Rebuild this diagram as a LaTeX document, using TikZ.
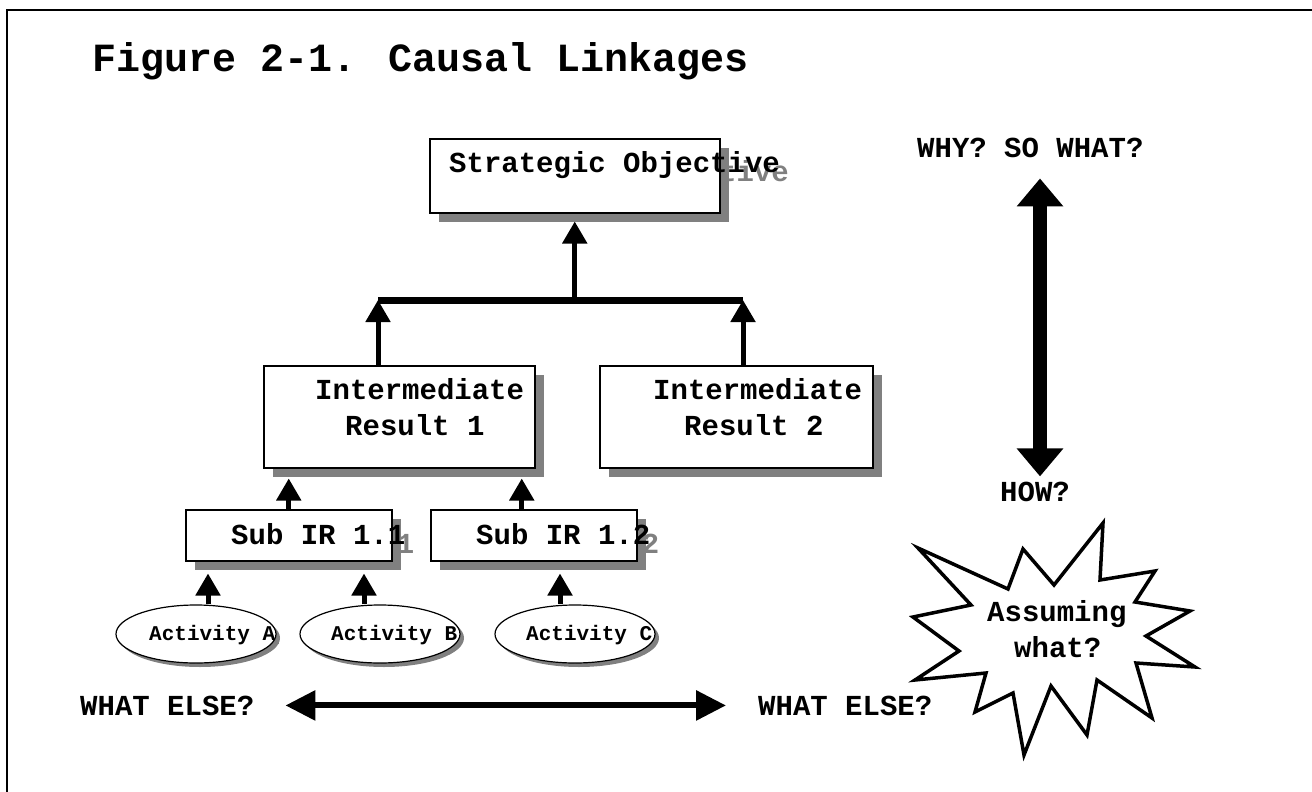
\documentclass[tikz,border=0pt]{standalone}
\usepackage{fontspec}
\setmainfont{Liberation Mono}
\usetikzlibrary{arrows.meta, calc, shapes.geometric, shadows}

\definecolor{shadowgray}{HTML}{808080}
\newcommand{\titlefont}{\fontsize{40}{46}\selectfont\bfseries}
\newcommand{\boxfont}{\fontsize{29}{33}\selectfont\bfseries}
\newcommand{\actfont}{\fontsize{21}{24}\selectfont\bfseries}

\tikzset{
    lbl/.style={anchor=base west, inner sep=0, font=\boxfont},
    ghost/.style={lbl, text=shadowgray},
    box/.style={draw, fill=white, line width=1.5pt, anchor=north west, inner sep=0,
        drop shadow={shadow xshift=9pt, shadow yshift=-9pt, fill=shadowgray, opacity=1}},
    act/.style={draw, ellipse, fill=white, line width=1.2pt, inner sep=0,
        minimum width=160pt, minimum height=58pt,
        drop shadow={shadow xshift=4pt, shadow yshift=-4pt, fill=shadowgray, opacity=1}},
    link/.style={line width=5pt, -{Triangle[width=24pt, length=22pt]}},
    vbig/.style={line width=14pt, {Triangle[width=45pt, length=28pt]}-{Triangle[width=45pt, length=28pt]}},
    hbig/.style={line width=6pt, {Triangle[width=29pt, length=30pt]}-{Triangle[width=29pt, length=30pt]}}
}

\begin{document}
\begin{tikzpicture}[x=1pt, y=-1pt]
    \useasboundingbox (0,0) rectangle (1312,792);

    % frame and title
    \draw[line width=2pt] (7,792) -- (7,10) -- (1312,10);
    \node[lbl, font=\titlefont] (title) at (92,72) {Figure 2-1. Causal Linkages};

    % strategic objective
    \node[ghost] (soGhost) at (458,181) {Strategic Objective};
    \node[box, minimum width=290pt, minimum height=74pt] (so) at (429,138) {};
    \node[lbl] (soText) at (449,172) {Strategic Objective};

    % intermediate results
    \node[ghost] (ir1Ghost) at (324,408) {Intermediate};
    \node[box, minimum width=271pt, minimum height=102pt] (ir1) at (263,365) {};
    \node[lbl] (ir1TextA) at (315,399) {Intermediate};
    \node[lbl] (ir1TextB) at (345,435) {Result 1};

    \node[ghost] (ir2Ghost) at (662,408) {Intermediate};
    \node[box, minimum width=273pt, minimum height=102pt] (ir2) at (599,365) {};
    \node[lbl] (ir2TextA) at (653,399) {Intermediate};
    \node[lbl] (ir2TextB) at (684,435) {Result 2};

    % sub results
    \node[ghost] (sub11Ghost) at (240,553) {Sub IR 1.1};
    \node[box, minimum width=206pt, minimum height=51pt] (sub11) at (185,509) {};
    \node[lbl] (sub11Text) at (231,544) {Sub IR 1.1};

    \node[ghost] (sub12Ghost) at (485,553) {Sub IR 1.2};
    \node[box, minimum width=206pt, minimum height=51pt] (sub12) at (430,509) {};
    \node[lbl] (sub12Text) at (476,544) {Sub IR 1.2};

    % activities
    \node[ghost, font=\actfont] (actAGhost) at (153,644) {Activity A};
    \node[ghost, font=\actfont] (actBGhost) at (335,644) {Activity B};
    \node[ghost, font=\actfont] (actCGhost) at (530,644) {Activity C};
    \node[act] (actA) at (196,634) {};
    \node[act] (actB) at (380,634) {};
    \node[act] (actC) at (575,634) {};
    \node[lbl, font=\actfont] (actAText) at (149,640) {Activity A};
    \node[lbl, font=\actfont] (actBText) at (331,640) {Activity B};
    \node[lbl, font=\actfont] (actCText) at (526,640) {Activity C};

    % links up the tree
    \coordinate (barL) at (378,300);
    \coordinate (barR) at (743,300);
    \draw[line width=7pt] (barL) -- (barR);
    \draw[link] (so.south |- barL) -- ($(so.south)+(0,8)$);
    \draw[link] (barL |- ir1.north) -- (barL);
    \draw[link] (barR |- ir2.north) -- (barR);

    \draw[link] (sub11.north) -- ($(sub11.north |- ir1.south)+(0,10)$);
    \draw[link] ($(sub12.north)+(-12,0)$) -- ($(sub12.north |- ir1.south)+(-12,10)$);

    \draw[link] ($(actA.north)+(12,0)$) -- ($(actA.north |- sub11.south)+(12,12)$);
    \draw[link] ($(actB.north)+(-16,0)$) -- ($(actB.north |- sub11.south)+(-16,12)$);
    \draw[link] ($(actC.north)+(-15,0)$) -- ($(actC.north |- sub12.south)+(-15,12)$);

    % why / how
    \node[lbl] (why) at (917,157) {WHY? SO WHAT?};
    \node[lbl] (how) at (1000,501) {HOW?};
    \draw[vbig] ($(why.south -| how.north)+(5,21)$) -- ($(how.north)+(5,-5)$);

    % what else
    \node[lbl] (else1) at (80,715) {WHAT ELSE?};
    \node[lbl] (else2) at (758,715) {WHAT ELSE?};
    \draw[hbig] ($(else1.east)+(31,0)$) -- ($(else2.west)+(-32,0)$);

    % assumptions
    \draw[line width=3.5pt, fill=white, line join=miter]
        (1103,523) -- (1100,580) -- (1155,571) -- (1135,602) -- (1190,611)
        -- (1146,636) -- (1195,667) -- (1136,663) -- (1152,718) -- (1097,680)
        -- (1087,735) -- (1051,686) -- (1024,755) -- (1013,693) -- (975,712)
        -- (986,673) -- (915,680) -- (959,651) -- (913,617) -- (971,605)
        -- (918,548) -- (1008,589) -- (1023,549) -- (1054,585) -- cycle;
    \node[lbl] (assumeA) at (987,621) {Assuming};
    \node[lbl] (assumeB) at (1014,657) {what?};
\end{tikzpicture}
\end{document}
